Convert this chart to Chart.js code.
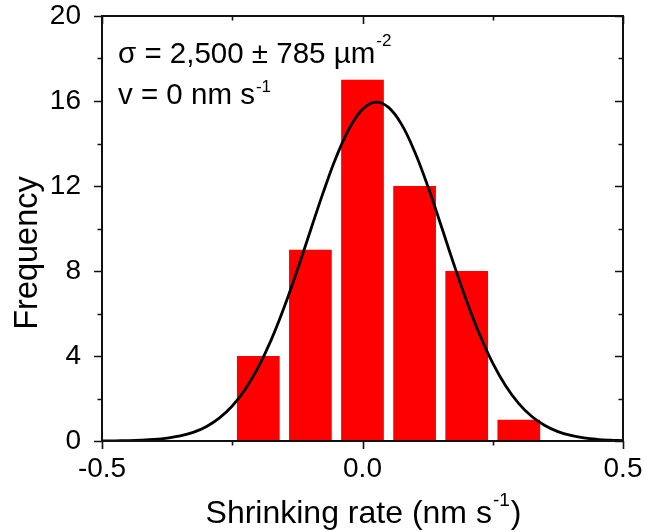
<!DOCTYPE html>
<html>
<head>
<meta charset="utf-8">
<script src="https://cdn.jsdelivr.net/npm/chart.js@4.4.1/dist/chart.umd.min.js"></script>
<style>
  html, body { margin: 0; padding: 0; background: #ffffff; }
  canvas { display: block; }
</style>
</head>
<body>
<canvas id="chart" width="646" height="531"></canvas>
<script>
// Histogram of shrinking rates (bin centres, counts)
const binCenters = [-0.2, -0.1, 0.0, 0.1, 0.2, 0.3];
const frequencies = [4, 9, 17, 12, 8, 1];

// Fitted distribution curve, sampled along the rate axis
const curveX = [-0.5, -0.475, -0.45, -0.425, -0.4, -0.375, -0.35, -0.325, -0.3, -0.275,
                -0.25, -0.225, -0.2, -0.175, -0.15, -0.125, -0.1, -0.075, -0.05, -0.025,
                0.0, 0.025, 0.05, 0.075, 0.1, 0.125, 0.15, 0.175, 0.2, 0.225,
                0.25, 0.275, 0.3, 0.325, 0.35, 0.375, 0.4, 0.425, 0.45, 0.475, 0.5];
const curveY = [0.004, 0.009, 0.019, 0.038, 0.072, 0.134, 0.238, 0.408, 0.674, 1.074,
                1.648, 2.437, 3.473, 4.769, 6.313, 8.052, 9.897, 11.725, 13.384, 14.723,
                15.61, 15.948, 15.70, 14.90, 13.62, 12.01, 10.20, 8.343, 6.579, 5.000,
                3.662, 2.585, 1.759, 1.153, 0.728, 0.443, 0.260, 0.147, 0.080, 0.042, 0.021];

// Axis ticks
const xMajorTicks = [-0.5, 0.0, 0.5];
const xMinorTicks = [-0.25, 0.25];
const yMajorTicks = [0, 4, 8, 12, 16, 20];
const yMinorTicks = [2, 6, 10, 14, 18];

// Texts (plain part, superscript part, trailing part)
const noteLine1 = ['σ = 2,500 ± 785 µm', '-2', ''];
const noteLine2 = ['v = 0 nm s', '-1', ''];
const xTitle = ['Shrinking rate (nm s', '-1', ')'];
const yTitle = 'Frequency';

const FONT = 'Arial, "Liberation Sans", Helvetica, sans-serif';
const INK = '#111111';

// Draws text with an optional raised superscript segment
function drawSupText(ctx, parts, x, y, size, supSize, raise, align) {
  const [a, sup, b] = parts;
  ctx.font = size + 'px ' + FONT;
  const wa = ctx.measureText(a).width;
  const wb = ctx.measureText(b).width;
  ctx.font = supSize + 'px ' + FONT;
  const ws = ctx.measureText(sup).width;
  const total = wa + ws + wb;
  let x0 = x;
  if (align === 'center') x0 = x - total / 2;
  ctx.textAlign = 'left';
  ctx.textBaseline = 'alphabetic';
  ctx.font = size + 'px ' + FONT;
  ctx.fillText(a, x0, y);
  ctx.font = supSize + 'px ' + FONT;
  ctx.fillText(sup, x0 + wa + 1, y - raise);
  ctx.font = size + 'px ' + FONT;
  ctx.fillText(b, x0 + wa + ws + 2, y);
}

const framePlugin = {
  id: 'frame',
  afterDatasetsDraw(chart) {
    const { ctx, chartArea: ca, scales } = chart;
    const xs = scales.x, ys = scales.y;
    ctx.save();
    ctx.strokeStyle = INK;
    ctx.lineWidth = 2;
    ctx.strokeRect(ca.left, ca.top, ca.right - ca.left, ca.bottom - ca.top);

    const major = 8, minor = 4.5;
    ctx.beginPath();
    // left (outward) and right (inward)
    yMajorTicks.concat(yMinorTicks).forEach(v => {
      const len = yMajorTicks.includes(v) ? major : minor;
      const py = Math.round(ys.getPixelForValue(v)) + 0.5;
      ctx.moveTo(ca.left - len, py); ctx.lineTo(ca.left, py);
      ctx.moveTo(ca.right - len, py); ctx.lineTo(ca.right, py);
    });
    // bottom (outward) and top (inward)
    xMajorTicks.concat(xMinorTicks).forEach(v => {
      const len = xMajorTicks.includes(v) ? major : minor;
      const px = Math.round(xs.getPixelForValue(v)) + 0.5;
      ctx.moveTo(px, ca.bottom); ctx.lineTo(px, ca.bottom + len);
      ctx.moveTo(px, ca.top); ctx.lineTo(px, ca.top + len);
    });
    ctx.lineWidth = 1.6;
    ctx.stroke();

    // annotation
    ctx.fillStyle = '#000000';
    drawSupText(ctx, noteLine1, ca.left + 16, 63, 29.5, 17, 17, 'left');
    drawSupText(ctx, noteLine2, ca.left + 16, 104, 29.5, 17, 12, 'left');

    // axis titles
    drawSupText(ctx, xTitle, (ca.left + ca.right) / 2, 523, 32, 19, 17, 'center');
    ctx.save();
    ctx.translate(28, 253);
    ctx.rotate(-Math.PI / 2);
    ctx.font = '32.5px ' + FONT;
    ctx.textAlign = 'center';
    ctx.textBaseline = 'middle';
    ctx.fillText(yTitle, 0, 0);
    ctx.restore();
    ctx.restore();
  }
};

new Chart(document.getElementById('chart'), {
  type: 'bar',
  data: {
    datasets: [
      {
        type: 'line',
        data: curveX.map((x, i) => ({ x: x, y: curveY[i] })),
        borderColor: '#000000',
        borderWidth: 2.8,
        pointRadius: 0,
        tension: 0.4,
        fill: false,
        order: 0
      },
      {
        type: 'bar',
        data: binCenters.map((x, i) => ({ x: x, y: frequencies[i] })),
        backgroundColor: '#ff0000',
        borderWidth: 0,
        categoryPercentage: 1.0,
        barPercentage: 0.82,
        order: 1
      }
    ]
  },
  plugins: [framePlugin],
  options: {
    responsive: false,
    animation: false,
    devicePixelRatio: 1,
    layout: { padding: { left: 0, right: 23, top: 16, bottom: 0 } },
    plugins: { legend: { display: false }, tooltip: { enabled: false } },
    scales: {
      x: {
        type: 'linear',
        offset: false,
        min: -0.5,
        max: 0.5,
        grid: { display: false, offset: false },
        border: { display: false },
        ticks: {
          stepSize: 0.5,
          padding: 3,
          color: '#000000',
          font: { family: FONT, size: 28 },
          maxRotation: 0,
          callback: v => v.toFixed(1)
        },
        afterFit: s => { s.height = 90; s.paddingLeft = 0; s.paddingRight = 0; }
      },
      y: {
        min: 0,
        max: 20,
        grid: { display: false },
        border: { display: false },
        ticks: {
          stepSize: 4,
          padding: 13,
          color: '#000000',
          font: { family: FONT, size: 28 },
          callback: v => String(v)
        },
        afterFit: s => { s.width = 102; s.paddingTop = 0; s.paddingBottom = 0; }
      }
    }
  }
});
</script>
</body>
</html>
